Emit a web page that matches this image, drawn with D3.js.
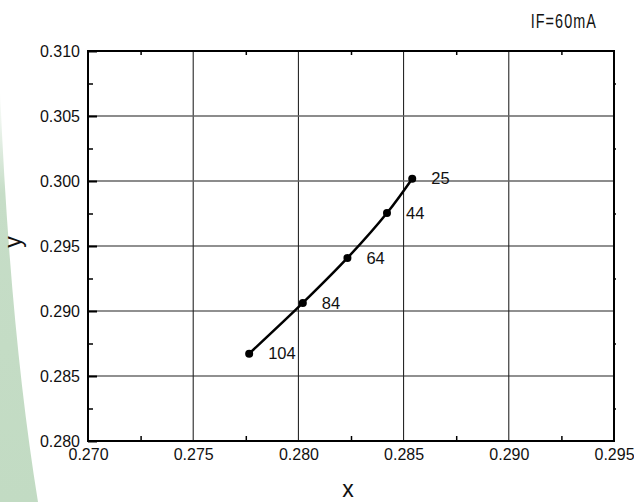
<!DOCTYPE html>
<html>
<head>
<meta charset="utf-8">
<script src="https://cdn.jsdelivr.net/npm/d3@7"></script>
<style>
  body { margin: 0; background: #fff; }
  svg { display: block; }
</style>
</head>
<body>
<div id="chart"></div>
<script>
const width = 634;
const height = 502;

// junction temperature labels and chromaticity coordinates
const temps = [25, 44, 64, 84, 104];
const xVals = [0.28541, 0.28421, 0.28233, 0.28021, 0.27766];
const yVals = [0.30018, 0.29754, 0.29408, 0.29062, 0.28672];

const xTicks = [0.270, 0.275, 0.280, 0.285, 0.290, 0.295];
const yTicks = [0.280, 0.285, 0.290, 0.295, 0.300, 0.305, 0.310];
const xMinor = [0.2725, 0.2775, 0.2825, 0.2875, 0.2925];
const yMinor = [0.2825, 0.2875, 0.2925, 0.2975, 0.3025, 0.3075];

const note = 'IF=60mA';

const plotLeft = 88, plotRight = 614, plotTop = 51, plotBottom = 441;
const font = 'Arial, "Liberation Sans", sans-serif';

var svg = d3.select('#chart')
            .append('svg')
            .attr('width', width)
            .attr('height', height);

// green background wedge at the left edge
var grad = svg.append('defs').append('linearGradient')
              .attr('id', 'wedge')
              .attr('x1', 0).attr('y1', 0).attr('x2', 0).attr('y2', 1);
grad.append('stop').attr('offset', '0%').attr('stop-color', '#ffffff');
grad.append('stop').attr('offset', '25%').attr('stop-color', '#c6ddc7');
grad.append('stop').attr('offset', '100%').attr('stop-color', '#c2dbc3');

svg.append('path')
   .attr('d', 'M0,90 Q10,330 38,502 L0,502 Z')
   .attr('fill', 'url(#wedge)');

var xScale = d3.scaleLinear().domain([0.270, 0.295]).range([plotLeft, plotRight]);
var yScale = d3.scaleLinear().domain([0.280, 0.310]).range([plotBottom, plotTop]);

// grid
svg.append('g')
   .selectAll('line')
   .data(xTicks.slice(1, -1))
   .enter()
   .append('line')
   .attr('x1', d => xScale(d)).attr('x2', d => xScale(d))
   .attr('y1', plotTop).attr('y2', plotBottom)
   .attr('stroke', '#111').attr('stroke-width', 1);

svg.append('g')
   .selectAll('line')
   .data(yTicks.slice(1, -1))
   .enter()
   .append('line')
   .attr('x1', plotLeft).attr('x2', plotRight)
   .attr('y1', d => yScale(d)).attr('y2', d => yScale(d))
   .attr('stroke', d => d >= 0.2999 ? '#666' : '#222')
   .attr('stroke-width', d => d >= 0.2999 ? 1.6 : 1.1);

// axes
var fmt = d3.format('.3f');

var gx = svg.append('g')
            .attr('transform', 'translate(0,' + plotBottom + ')')
            .call(d3.axisBottom(xScale).tickValues(xTicks).tickFormat(fmt).tickSize(0).tickPadding(8));
var gy = svg.append('g')
            .attr('transform', 'translate(' + plotLeft + ',0)')
            .call(d3.axisLeft(yScale).tickValues(yTicks).tickFormat(fmt).tickSize(-9).tickPadding(8));

[gx, gy].forEach(function(g){
    g.select('.domain').remove();
    g.selectAll('text').attr('font-family', font).attr('font-size', 16).attr('fill', '#111');
    g.selectAll('line').attr('stroke', '#000').attr('stroke-width', 2);
});

// minor ticks
svg.append('g')
   .attr('transform', 'translate(' + plotLeft + ',0)')
   .call(d3.axisLeft(yScale).tickValues(yMinor).tickFormat('').tickSize(-5))
   .call(g => g.select('.domain').remove())
   .selectAll('line').attr('stroke', '#000').attr('stroke-width', 1.5);

svg.append('g')
   .attr('transform', 'translate(' + plotRight + ',0)')
   .call(d3.axisRight(yScale).tickValues(yMinor).tickFormat('').tickSize(2))
   .call(g => g.select('.domain').remove())
   .selectAll('line').attr('stroke', '#000').attr('stroke-width', 1.5);

svg.append('g')
   .attr('transform', 'translate(0,' + plotBottom + ')')
   .call(d3.axisBottom(xScale).tickValues(xMinor).tickFormat('').tickSize(-5))
   .call(g => g.select('.domain').remove())
   .selectAll('line').attr('stroke', '#000').attr('stroke-width', 1.5);

svg.append('g')
   .attr('transform', 'translate(0,' + plotTop + ')')
   .call(d3.axisTop(xScale).tickValues(xMinor).tickFormat('').tickSize(-4))
   .call(g => g.select('.domain').remove())
   .selectAll('line').attr('stroke', '#000').attr('stroke-width', 1.5);

// frame
svg.append('rect')
   .attr('x', plotLeft).attr('y', plotTop)
   .attr('width', plotRight - plotLeft).attr('height', plotBottom - plotTop)
   .attr('fill', 'none')
   .attr('stroke', '#000')
   .attr('stroke-width', 2);

// data
var pts = temps.map(function(t, i){
    return {t: t, x: xVals[i], y: yVals[i]};
});

var line = d3.line()
             .x(d => xScale(d.x))
             .y(d => yScale(d.y))
             .curve(d3.curveCatmullRom);

svg.append('path')
   .datum(pts)
   .attr('d', line)
   .attr('fill', 'none')
   .attr('stroke', '#000')
   .attr('stroke-width', 2.5);

svg.append('g')
   .selectAll('circle')
   .data(pts)
   .enter()
   .append('circle')
   .attr('cx', d => xScale(d.x))
   .attr('cy', d => yScale(d.y))
   .attr('r', 4)
   .attr('fill', '#000');

svg.append('g')
   .selectAll('text')
   .data(pts)
   .enter()
   .append('text')
   .attr('x', d => xScale(d.x) + 19)
   .attr('y', d => yScale(d.y))
   .attr('dy', '0.35em')
   .attr('font-family', font)
   .attr('font-size', 16.5)
   .attr('fill', '#111')
   .text(d => d.t);

// titles
svg.append('text')
   .attr('x', 348)
   .attr('y', 497)
   .attr('text-anchor', 'middle')
   .attr('font-family', font)
   .attr('font-size', 23)
   .attr('fill', '#111')
   .text('x');

svg.append('text')
   .attr('transform', 'translate(21,242) rotate(-90)')
   .attr('text-anchor', 'middle')
   .attr('font-family', font)
   .attr('font-size', 23)
   .attr('fill', '#111')
   .text('y');

svg.append('text')
   .attr('transform', 'translate(597,28) scale(0.72,1)')
   .attr('text-anchor', 'end')
   .attr('font-family', font)
   .attr('font-size', 20)
   .attr('letter-spacing', 1.5)
   .attr('fill', '#111')
   .text(note);
</script>
</body>
</html>
